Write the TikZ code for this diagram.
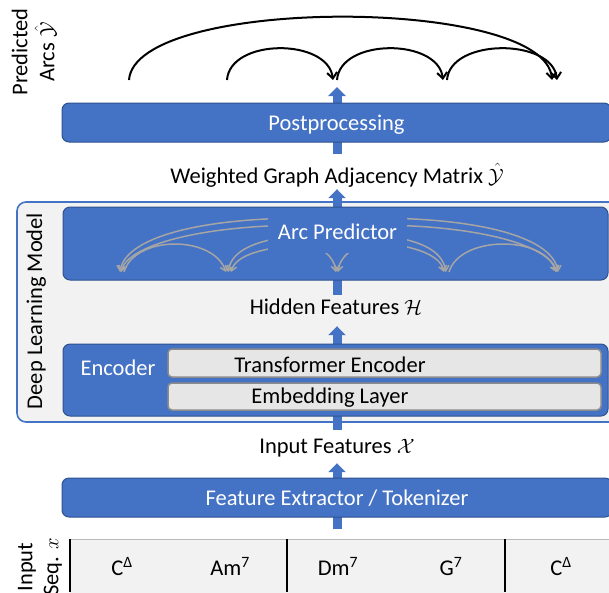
\documentclass[tikz,border=0pt]{standalone}
\usepackage{amsmath}
\usepackage{fontspec}
\setmainfont{Carlito}
\usepackage{tikz}
\usetikzlibrary{positioning, arrows.meta, calc}
\definecolor{boxblue}{HTML}{4472C4}
\definecolor{boxedge}{HTML}{2F528F}
\definecolor{framegray}{HTML}{F2F2F2}
\definecolor{layergray}{HTML}{E7E6E6}
\definecolor{layeredge}{HTML}{8C8C8C}
\definecolor{arcgray}{HTML}{A5A5A5}
\newcommand{\figfont}{\fontsize{22.5}{27}\selectfont}

\begin{document}
\begin{tikzpicture}[
    x=1pt, y=-1pt,
    every node/.style={font=\figfont},
    block/.style={rectangle, rounded corners=7pt, fill=boxblue, draw=boxedge, line width=1pt, text=white, text height=17pt, text depth=2pt, inner sep=0pt},
    layerbox/.style={rectangle, rounded corners=4pt, fill=layergray, draw=layeredge, line width=1.5pt, inner sep=0pt},
    modelframe/.style={rectangle, rounded corners=9pt, fill=framegray, draw=boxblue, line width=1.6pt, inner sep=0pt},
    lbl/.style={text height=15pt, text depth=5pt, inner sep=0pt},
    sidelbl/.style={rotate=90, align=center, inner sep=0pt},
    blockarrow/.style={draw=boxblue, line width=9pt, -{Triangle[width=17pt, length=9pt]}},
    garc/.style={draw=arcgray, line width=1.5pt, -{Straight Barb[length=5pt, width=8pt]}},
    parc/.style={line width=2pt, -{Straight Barb[length=6pt, width=10pt]}},
    barline/.style={line width=2pt},
]
\clip (0,0) rectangle (609,592);

% Model frame
\node[modelframe, minimum width=608, minimum height=220] (dlframe) at (321,312) {};
\node[lbl, rotate=90] (dllbl) at (37,311) {Deep Learning Model};

% Text between the blocks
\node[lbl] (wlabel) at (337,178) {Weighted Graph Adjacency Matrix $\hat{\mathcal{Y}}$};
\node[lbl] (hidlabel) at (336,309) {Hidden Features $\mathcal{H}$};
\node[lbl] (inlabel) at (337,448) {Input Features $\mathcal{X}$};

% Side labels
\node[sidelbl, font=\fontsize{22.5}{27}\selectfont] (predlbl) at (34,52) {Predicted\\Arcs $\hat{\mathcal{Y}}$};
\node[sidelbl, font=\fontsize{22.5}{26}\selectfont] (seqlbl) at (40,567) {Input\\Seq. $x$};

% Input sequence
\node[rectangle, fill=framegray, inner sep=0pt, minimum width=550, minimum height=61, anchor=north west] (seq) at (70,539) {};
\draw[gray!55, line width=0.8pt] (seq.north west) -- (seq.north east);
\foreach \bx in {70, 287, 505}
    \draw[barline] (\bx,539) -- (\bx,592);
\node[lbl] (ch1) at (122,570) {C\textsuperscript{Δ}};
\node[lbl] (ch2) at (230,570) {Am\textsuperscript{7}};
\node[lbl] (ch3) at (338,570) {Dm\textsuperscript{7}};
\node[lbl] (ch4) at (451,570) {G\textsuperscript{7}};
\node[lbl] (ch5) at (561,570) {C\textsuperscript{Δ}};

% Block arrows (behind the boxes)
\coordinate (arcbase) at (337,87);
\draw[blockarrow] ($(inlabel.south |- seq.north)+(0,-10)$) -- ($(inlabel.south)+(0,5)$);
\draw[blockarrow] ($(inlabel.north)+(0,-8)$) -- ($(inlabel.north |- hidlabel.south)+(0,7)$);
\draw[blockarrow] ($(inlabel.north |- hidlabel.north)+(0,-4)$) -- ($(wlabel.south)+(0,1)$);
\draw[blockarrow] ($(wlabel.north)+(0,-14)$) -- (arcbase);

% Blocks
\node[block, minimum width=549, minimum height=39] (post) at (336.5,122.5) {Postprocessing};
\node[block, minimum width=545, minimum height=73] (arcpred) at (335.5,243.5) {};
\node[block, minimum width=545, minimum height=72] (encoder) at (335.5,380) {};
\node[block, minimum width=550, minimum height=39] (featext) at (337,497.5) {Feature Extractor / Tokenizer};

% Encoder layers
\node[lbl, text=white] (enclbl) at (118,370) {Encoder};
\node[layerbox, minimum width=433, minimum height=28] (trans) at (384.5,363) {};
\node[layerbox, minimum width=433, minimum height=27] (embed) at (384.5,396.5) {};
\node[lbl] (translbl) at (330,367) {Transformer Encoder};
\node[lbl] (embedlbl) at (330,398) {Embedding Layer};

% Candidate arcs inside the arc predictor
\coordinate (r1) at (120,272);
\coordinate (r2) at (228,272);
\coordinate (r3) at (337,272);
\coordinate (r4) at (446,272);
\coordinate (r5) at (558,272);
\draw[garc] (300,218) .. controls (190,219) and (125,240) .. (r1);
\draw[garc] (300,225) .. controls (200,226) and (128,245) .. ([xshift=1pt]r1);
\draw[garc] ([xshift=4pt]r1) .. controls +(11,-37) and +(-13,-37) .. ([xshift=-2pt]r2);
\draw[garc] (300,235) .. controls (255,240) and (232,250) .. (r2);
\draw[garc] (300,245) .. controls (262,248) and (236,255) .. ([xshift=3pt]r2);
\draw[garc] (300,238) .. controls (322,248) and (334,256) .. ([xshift=-1pt]r3);
\draw[garc] (375,238) .. controls (352,248) and (340,256) .. ([xshift=1pt]r3);
\draw[garc] (380,218) .. controls (490,219) and (553,240) .. (r5);
\draw[garc] (380,225) .. controls (480,226) and (548,245) .. ([xshift=-1pt]r5);
\draw[garc] ([xshift=3pt]r4) .. controls +(11,-37) and +(-11,-37) .. ([xshift=-2pt]r5);
\draw[garc] (380,235) .. controls (420,240) and (442,250) .. (r4);
\draw[garc] (380,243) .. controls (415,246) and (440,255) .. ([xshift=-2pt]r4);
\node[lbl, fill=boxblue, text=white, minimum width=139, minimum height=38] (arclbl) at (337.5,234) {Arc Predictor};

% Predicted arcs
\coordinate (q1) at (129,80);
\coordinate (q2) at (227,80);
\coordinate (q3) at (335,80);
\coordinate (q4) at (445,80);
\coordinate (q5) at (555,80);
\draw[parc] (q2) .. controls +(3,-42) and +(-5,-42) .. ([xshift=-2pt]q3);
\draw[parc] ([xshift=2pt]q3) .. controls +(3,-42) and +(-5,-42) .. ([xshift=-2pt]q4);
\draw[parc] ([xshift=2pt]q4) .. controls +(3,-42) and +(-5,-42) .. ([xshift=2pt]q5);
\draw[parc] (q1) .. controls +(6,-84) and +(-7,-84) .. ([xshift=-3pt]q5);

\end{tikzpicture}
\end{document}
